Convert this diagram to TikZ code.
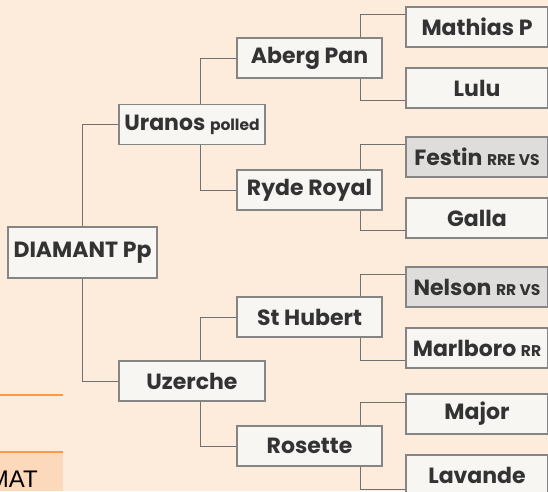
\documentclass[tikz,border=0pt]{standalone}
\usepackage{fontspec}
\setmainfont{Poppins}
\newfontfamily\tabfont{Liberation Sans}
\usetikzlibrary{positioning}
\definecolor{peach}{HTML}{FDEBDC}
\definecolor{boxfill}{HTML}{F8F6F3}
\definecolor{boxgray}{HTML}{DEDDDB}
\definecolor{boxline}{HTML}{858585}
\definecolor{linegray}{HTML}{707070}
\definecolor{ink}{HTML}{333333}
\definecolor{tabline}{HTML}{F89C4C}
\definecolor{tabfill}{HTML}{FCD9BA}
\newcommand{\smalltag}[1]{{\fontsize{15.5}{15.5}\selectfont #1}}

\begin{document}
\begin{tikzpicture}[x=1pt, y=-1pt, node distance=61pt, on grid,
		horse/.style={rectangle, draw=boxline, fill=boxfill, text=ink,
			line width=1.1pt, inner sep=0pt, minimum height=40pt,
			font=\fontsize{22}{24}\selectfont\bfseries},
		tested/.style={horse, fill=boxgray},
		gen1/.style={minimum width=146pt},
		gen2/.style={minimum width=145pt},
		gen3/.style={minimum width=142pt},
		link/.style={draw=linegray, line width=0.9pt}]
		\fill[peach] (0,0) rectangle (548,491);
		\useasboundingbox (0,0) rectangle (548,491);
		% side tab
		\fill[tabfill] (0,452) rectangle (63,491);
		\draw[tabline, line width=2pt] (0,395) -- (63,395);
		\draw[tabline, line width=2pt] (0,452) -- (63,452);
		\begin{scope}
			\clip (0,452) rectangle (63,491);
			\node[anchor=base east, inner sep=0pt, font=\tabfont\fontsize{24}{24}\selectfont] (tab) at (38,487) {MAT};
		\end{scope}
		% pedigree
		\node[horse, minimum width=149pt, minimum height=51pt] (D) at (82.5,252.5) {DIAMANT Pp};
		\node[horse, gen1] (U) at (192,124.5) {Uranos \smalltag{polled}};
		\node[horse, gen1] (Z) at (192,381) {Uzerche};
		\node[horse, gen2] (AP) at (309.5,58) {Aberg Pan};
		\node[horse, gen2] (RR) at (309.5,190) {Ryde Royal};
		\node[horse, gen2] (SH) at (309.5,317) {St Hubert};
		\node[horse, gen2] (RO) at (309.5,446) {Rosette};
		\node[horse, gen3] (MP) at (477,27) {Mathias P};
		\node[horse, gen3] (LU) [below =of MP] {Lulu};
		\node[tested, gen3] (FE) at (477,157) {Festin \smalltag{RRE VS}};
		\node[horse, gen3] (GA) [below =of FE] {Galla};
		\node[tested, gen3] (NE) at (477,287) {Nelson \smalltag{RR VS}};
		\node[horse, gen3] (MB) [below =of NE] {Marlboro \smalltag{RR}};
		\node[horse, gen3] (MJ) at (477,414) {Major};
		\node[horse, gen3] (LA) [below =of MJ] {Lavande};
		\draw[link] (D.north) |- (U.west); % sire
		\draw[link] (D.south) |- (Z.west); % dam
		\draw[link] ([xshift=8pt]U.north) |- (AP.west);
		\draw[link] ([xshift=8pt]U.south) |- (RR.west);
		\draw[link] ([xshift=8pt]Z.north) |- (SH.west);
		\draw[link] ([xshift=8pt]Z.south) |- (RO.west);
		\draw[link] ([xshift=50.5pt]AP.north) |- ([yshift=-8pt]MP.north west);
		\draw[link] ([xshift=50.5pt]AP.south) |- ([yshift=8pt]LU.south west);
		\draw[link] ([xshift=50.5pt]RR.north) |- ([yshift=-8pt]FE.north west);
		\draw[link] ([xshift=50.5pt]RR.south) |- ([yshift=8pt]GA.south west);
		\draw[link] ([xshift=50.5pt]SH.north) |- ([yshift=-8pt]NE.north west);
		\draw[link] ([xshift=50.5pt]SH.south) |- ([yshift=8pt]MB.south west);
		\draw[link] ([xshift=50.5pt]RO.north) |- ([yshift=-9pt]MJ.north west);
		\draw[link] ([xshift=50.5pt]RO.south) |- ([yshift=6pt]LA.south west);
\end{tikzpicture}
\end{document}
